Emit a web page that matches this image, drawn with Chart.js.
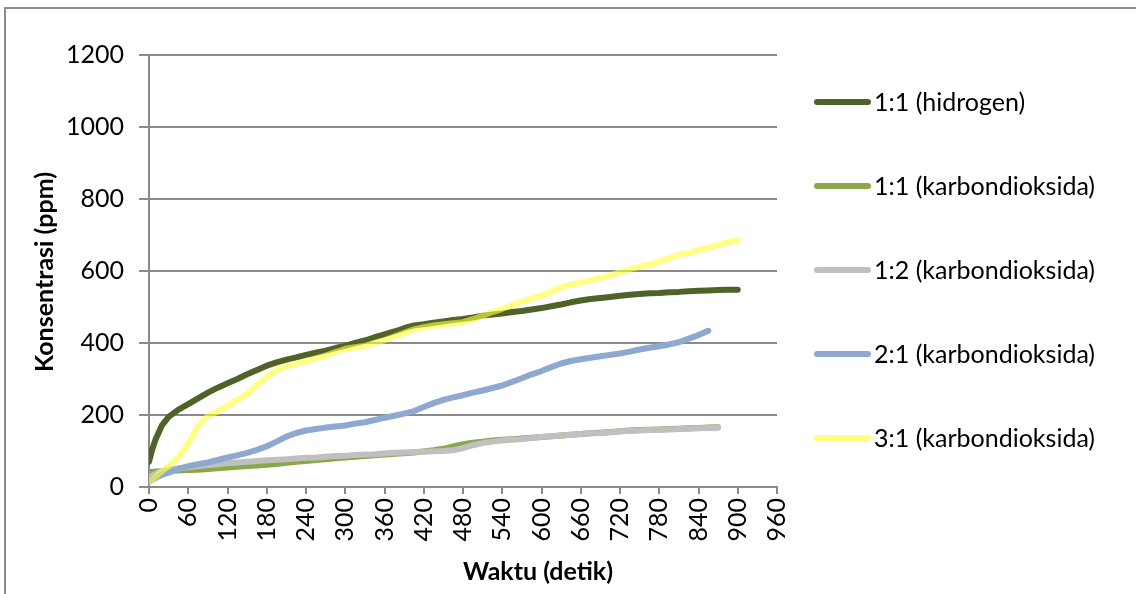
<!DOCTYPE html>
<html>
<head>
<meta charset="utf-8">
<script src="https://cdn.jsdelivr.net/npm/chart.js@4/dist/chart.umd.min.js"></script>
<style>
  html, body { margin: 0; padding: 0; background: #fff; }
  #wrap { position: relative; width: 1136px; height: 594px; }
</style>
</head>
<body>
<div id="wrap"><canvas id="c" width="1136" height="594"></canvas></div>
<script>
// Time axis (seconds)
const waktu = [0, 5, 10, 15, 20, 30, 45, 60, 75, 90, 105, 120, 135, 150, 165, 180, 195, 210, 225, 240,
  255, 270, 285, 300, 315, 330, 345, 360, 375, 390, 405, 420, 435, 450, 465, 480, 495, 510, 525, 540,
  555, 570, 585, 600, 615, 630, 645, 660, 675, 690, 705, 720, 735, 750, 765, 780, 795, 810, 825, 840,
  855, 870, 885, 900];

// Concentration (ppm) for each mixture ratio
const hidrogen11 = [70, 105, 132, 152, 172, 195, 215, 230, 246, 262, 276, 288, 300, 313, 325, 337, 346, 354, 360, 367,
  373, 379, 386, 392, 400, 407, 416, 424, 432, 441, 449, 452, 456, 460, 464, 467, 471, 476, 479, 482,
  486, 489, 493, 497, 502, 507, 513, 518, 522, 525, 528, 531, 534, 536, 538, 539, 541, 542, 544, 545,
  546, 547, 548, 548];
const co2_11 = [42, 42, 43, 43, 44, 45, 46, 47, 48, 50, 52, 54, 56, 58, 60, 62, 64, 67, 70, 72,
  75, 77, 80, 82, 84, 86, 88, 90, 92, 94, 96, 99, 102, 106, 113, 119, 123, 126, 129, 131,
  133, 135, 137, 139, 141, 143, 145, 147, 149, 151, 153, 155, 157, 158, 159, 160, 161, 162, 163, 164,
  165, 166, null, null];
const co2_12 = [28, 32, 36, 40, 44, 48, 52, 55, 58, 61, 63, 66, 68, 70, 72, 74, 76, 77, 79, 81,
  82, 84, 86, 87, 89, 90, 91, 93, 95, 96, 97, 98, 99, 100, 102, 108, 116, 122, 126, 129,
  131, 133, 136, 139, 141, 143, 145, 147, 149, 150, 152, 154, 156, 157, 158, 159, 160, 161, 162, 163,
  164, 165, null, null];
const co2_21 = [15, 20, 25, 30, 34, 40, 50, 58, 63, 68, 75, 82, 88, 95, 103, 113, 126, 140, 150, 157,
  161, 165, 168, 171, 176, 180, 186, 192, 198, 204, 211, 222, 233, 242, 249, 255, 262, 268, 275, 282,
  292, 302, 313, 322, 333, 343, 350, 355, 359, 363, 367, 371, 376, 382, 387, 391, 396, 402, 412, 422,
  434, null, null, null];
const co2_31 = [15, 20, 28, 36, 44, 58, 82, 120, 170, 198, 210, 225, 242, 258, 283, 306, 325, 335, 342, 349,
  357, 365, 375, 384, 388, 392, 400, 408, 418, 428, 438, 444, 449, 452, 455, 458, 466, 476, 486, 495,
  505, 515, 524, 532, 542, 555, 562, 568, 574, 580, 588, 597, 605, 612, 618, 626, 636, 645, 650, 658,
  665, 672, 680, 686];

const seriesLabels = ['1:1 (hidrogen)', '1:1 (karbondioksida)', '1:2 (karbondioksida)', '2:1 (karbondioksida)', '3:1 (karbondioksida)'];
const seriesColors = ['#4F6228', '#8AA84A', '#C0C0C0', '#8EA8D0', 'rgba(255,255,60,0.62)'];
const legendColors = ['#4F6228', '#8AA84A', '#C0C0C0', '#8EA8D0', '#FFFF80'];
const seriesValues = [hidrogen11, co2_11, co2_12, co2_21, co2_31];

const xTitle = 'Waktu (detik)';
const yTitle = 'Konsentrasi (ppm)';

const FONT = 'Lato, "Open Sans", sans-serif';
const GRID = '#8a8a8a';

function points(vals) {
  const out = [];
  vals.forEach((v, i) => { if (v !== null) out.push({ x: waktu[i], y: v }); });
  return out;
}

const datasets = seriesValues.map((vals, i) => ({
  label: seriesLabels[i],
  data: points(vals),
  borderColor: seriesColors[i],
  backgroundColor: seriesColors[i],
  borderWidth: 6,
  borderCapStyle: 'round',
  borderJoinStyle: 'round',
  pointRadius: 0,
  tension: 0,
  fill: false,
  order: seriesValues.length - i   // later series are painted on top
}));

// White page with the chart frame (top and left edges)
const framePlugin = {
  id: 'frame',
  beforeDraw(chart) {
    const ctx = chart.ctx;
    ctx.save();
    ctx.fillStyle = '#fff';
    ctx.fillRect(0, 0, chart.width, chart.height);
    ctx.strokeStyle = '#8c8c8c';
    ctx.lineWidth = 2;
    ctx.beginPath();
    ctx.moveTo(5, chart.height + 2);
    ctx.lineTo(5, 8);
    ctx.lineTo(chart.width + 2, 8);
    ctx.stroke();
    ctx.restore();
  }
};

// Axis titles
const titlePlugin = {
  id: 'axisTitles',
  afterDraw(chart) {
    const ctx = chart.ctx;
    ctx.save();
    ctx.fillStyle = '#000';
    ctx.font = 'bold 25px ' + FONT;
    ctx.textAlign = 'center';
    ctx.textBaseline = 'middle';
    ctx.fillText(xTitle, 538, 572);
    ctx.translate(45, 272);
    ctx.rotate(-Math.PI / 2);
    ctx.fillText(yTitle, 0, 0);
    ctx.restore();
  }
};

// Legend on the right, one entry per series
const legendPlugin = {
  id: 'sideLegend',
  afterDraw(chart) {
    const ctx = chart.ctx;
    ctx.save();
    ctx.font = '25px ' + FONT;
    ctx.textBaseline = 'middle';
    ctx.textAlign = 'left';
    chart.data.datasets.forEach((ds, i) => {
      const y = 102 + i * 84;
      ctx.strokeStyle = legendColors[i];
      ctx.lineWidth = 6;
      ctx.lineCap = 'round';
      ctx.beginPath();
      ctx.moveTo(817, y);
      ctx.lineTo(868, y);
      ctx.stroke();
      ctx.fillStyle = '#000';
      ctx.fillText(ds.label, 874, y + 1);
    });
    ctx.restore();
  }
};

new Chart(document.getElementById('c'), {
  type: 'line',
  data: { datasets },
  options: {
    responsive: false,
    animation: false,
    devicePixelRatio: 1,
    layout: { padding: { left: 0, top: 55, right: 359, bottom: 0 } },
    plugins: { legend: { display: false }, tooltip: { enabled: false } },
    scales: {
      x: {
        type: 'linear',
        min: 0, max: 960,
        afterFit(scale) { scale.height = 107; },
        ticks: {
          stepSize: 60,
          autoSkip: false,
          minRotation: 90, maxRotation: 90,
          padding: 4,
          color: '#000',
          font: { family: FONT, size: 25 },
          callback: v => String(v)
        },
        grid: { drawOnChartArea: false, drawTicks: true, tickLength: 7, color: GRID, lineWidth: 2 },
        border: { display: true, color: GRID, width: 2 }
      },
      y: {
        min: 0, max: 1200,
        afterFit(scale) { scale.width = 149; },
        ticks: {
          stepSize: 200,
          padding: 15,
          color: '#000',
          font: { family: FONT, size: 25 },
          callback: v => String(v)
        },
        grid: { drawOnChartArea: true, drawTicks: true, tickLength: 10, color: GRID, lineWidth: 2 },
        border: { display: true, color: GRID, width: 2 }
      }
    }
  },
  plugins: [framePlugin, titlePlugin, legendPlugin]
});
</script>
</body>
</html>
